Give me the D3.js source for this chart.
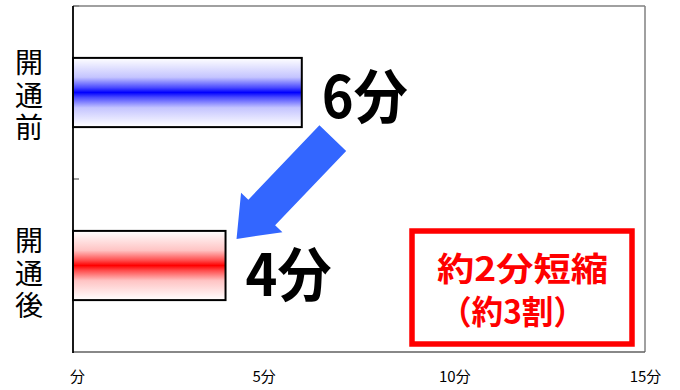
<!DOCTYPE html>
<html>
<head>
<meta charset="utf-8">
<script src="https://cdn.jsdelivr.net/npm/d3@7"></script>
<style>
  html, body { margin: 0; padding: 0; background: #fff; }
  svg { display: block; font-family: "Noto Sans CJK JP", sans-serif; }
</style>
</head>
<body>
<div id="chart"></div>
<script>
const categories = ['開通前', '開通後'];
const minutes = [6, 4];
const valueLabels = ['6分', '4分'];
const tickValues = [0, 5, 10, 15];
const tickLabels = ['分', '5分', '10分', '15分'];
const noteLines = ['約2分短縮', '（約3割）'];

const width = 680, height = 390;
const plot = { left: 73, right: 645, top: 6, bottom: 352 };

const svg = d3.select('#chart').append('svg')
  .attr('width', width)
  .attr('height', height);

const x = d3.scaleLinear().domain([0, 15]).range([plot.left, plot.right]);
const y = d3.scaleBand().domain(categories)
  .range([plot.top, plot.bottom])
  .paddingInner(0.6)
  .paddingOuter(0.3);

// gradients for the bars
const defs = svg.append('defs');
[['gradBlue', '#0000ff', '#c4c4ff', '#4a4aff'], ['gradRed', '#ff0000', '#ffc4c4', '#ff4a4a']].forEach(([id, c, light, mid]) => {
  const g = defs.append('linearGradient').attr('id', id)
    .attr('x1', 0).attr('y1', 0).attr('x2', 0).attr('y2', 1);
  [[0, '#ffffff'], [0.28, light], [0.43, mid], [0.5, c], [0.57, mid], [0.72, light], [1, '#ffffff']]
    .forEach(([o, col]) => g.append('stop').attr('offset', o).attr('stop-color', col));
});

// plot frame
svg.append('line').attr('x1', plot.left).attr('x2', plot.right).attr('y1', plot.top).attr('y2', plot.top)
  .attr('stroke', '#808080').attr('stroke-width', 1.5);
svg.append('line').attr('x1', plot.right).attr('x2', plot.right).attr('y1', plot.top).attr('y2', plot.bottom)
  .attr('stroke', '#808080').attr('stroke-width', 1.5);
svg.append('line').attr('x1', plot.left).attr('x2', plot.right).attr('y1', plot.bottom).attr('y2', plot.bottom)
  .attr('stroke', '#606060').attr('stroke-width', 1.5);

// category separators (inside ticks)
const step = y.step();
[plot.top, plot.top + step].forEach(v => {
  svg.append('line').attr('x1', plot.left).attr('x2', plot.left + 6).attr('y1', v).attr('y2', v)
    .attr('stroke', '#808080').attr('stroke-width', 1.5);
});
svg.append('line').attr('x1', plot.left).attr('x2', plot.left).attr('y1', plot.top).attr('y2', plot.bottom + 1)
  .attr('stroke', '#000').attr('stroke-width', 1.8);

// x axis labels
const xAxis = svg.append('g')
  .attr('transform', `translate(0,${plot.bottom})`)
  .call(d3.axisBottom(x).tickValues(tickValues).tickSize(0).tickPadding(19)
    .tickFormat((d, i) => tickLabels[i]));
xAxis.select('.domain').remove();
xAxis.selectAll('text')
  .attr('fill', '#000')
  .style('font-size', '15px')
  .style('font-family', '"Noto Sans CJK JP", sans-serif')
  .attr('dx', (d, i) => i === 0 ? 4 : 0);

// category labels, written vertically
categories.forEach((c, k) => {
  const cy = y(c) + y.bandwidth() / 2 + (k === 0 ? 3 : 8);
  const t = svg.append('text')
    .attr('x', 29)
    .attr('text-anchor', 'middle')
    .style('font-size', '28px')
    .attr('fill', '#000');
  Array.from(c).forEach((ch, i) => {
    t.append('tspan').attr('x', 29).attr('y', cy + (i - 1) * 32.5 + 10).text(ch);
  });
});

// bars
svg.selectAll('rect.bar')
  .data(categories)
  .join('rect')
  .attr('class', 'bar')
  .attr('x', x(0))
  .attr('y', d => y(d))
  .attr('width', (d, i) => x(minutes[i]) - x(0))
  .attr('height', y.bandwidth())
  .attr('fill', (d, i) => i === 0 ? 'url(#gradBlue)' : 'url(#gradRed)')
  .attr('stroke', '#000')
  .attr('stroke-width', 2);

// value labels
svg.selectAll('text.value')
  .data(categories)
  .join('text')
  .attr('class', 'value')
  .attr('x', (d, i) => x(minutes[i]) + 20)
  .attr('y', (d, i) => y(d) + y.bandwidth() / 2 + (i === 0 ? 0 : 5))
  .attr('dominant-baseline', 'central')
  .attr('textLength', 86)
  .attr('lengthAdjust', 'spacingAndGlyphs')
  .style('font-size', '58px')
  .style('font-weight', 'bold')
  .attr('fill', '#000')
  .text((d, i) => valueLabels[i]);

// arrow from the first bar's end to the second bar's end
const tail = [x(minutes[0]) + 31, y(categories[0]) + y.bandwidth() + 11];
const tip = [x(minutes[1]) + 11, y(categories[1]) + 8];
const dx = tip[0] - tail[0], dy = tip[1] - tail[1];
const len = Math.hypot(dx, dy);
const ang = Math.atan2(dy, dx) * 180 / Math.PI;
const shaftW = 18.5, headW = 28.6, headL = 36.5;
const arrowPts = [
  [0, -shaftW], [len - headL, -shaftW], [len - headL, -headW], [len, 0],
  [len - headL, headW], [len - headL, shaftW], [0, shaftW]
];
svg.append('polygon')
  .attr('points', arrowPts.map(p => p.join(',')).join(' '))
  .attr('transform', `translate(${tail[0]},${tail[1]}) rotate(${ang})`)
  .attr('fill', '#3366ff');

// note box
svg.append('rect')
  .attr('x', 412).attr('y', 231)
  .attr('width', 220).attr('height', 113)
  .attr('fill', '#fff')
  .attr('stroke', '#ff0000')
  .attr('stroke-width', 5.5);

svg.selectAll('text.note')
  .data(noteLines)
  .join('text')
  .attr('class', 'note')
  .attr('x', (d, i) => i === 0 ? 437 : 440)
  .attr('y', (d, i) => 281 + i * 43)
  .attr('textLength', (d, i) => i === 0 ? 171 : 145)
  .attr('lengthAdjust', 'spacingAndGlyphs')
  .style('font-size', '33px')
  .style('font-weight', 'bold')
  .attr('fill', '#ff0000')
  .text(d => d);
</script>
</body>
</html>
